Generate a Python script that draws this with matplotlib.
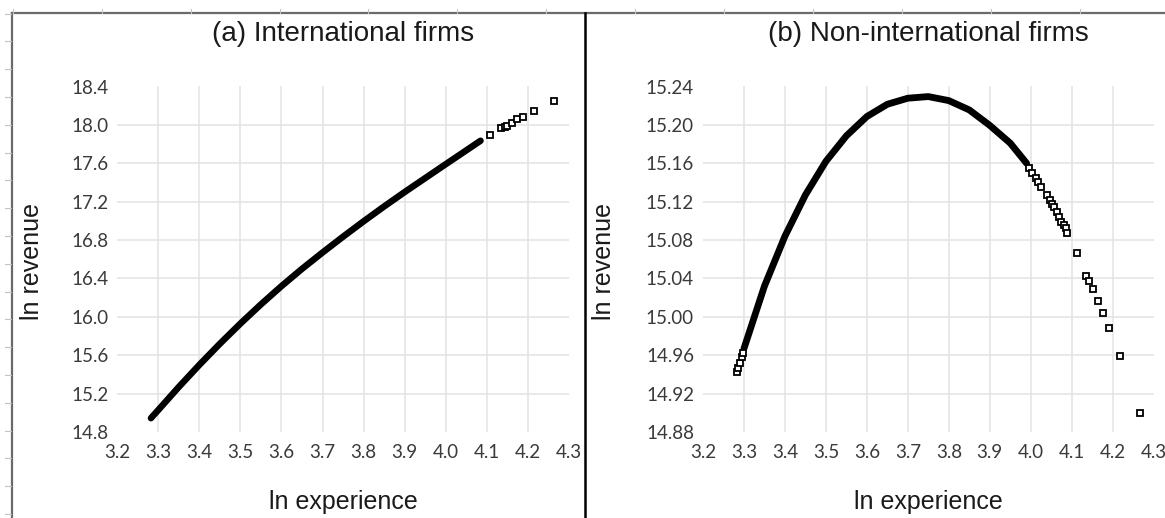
import matplotlib
matplotlib.use("Agg")
import matplotlib.pyplot as plt
from matplotlib.lines import Line2D

# ---------------- data ----------------
x_ticks = [3.2, 3.3, 3.4, 3.5, 3.6, 3.7, 3.8, 3.9, 4.0, 4.1, 4.2, 4.3]
x_tick_labels = ["3.2", "3.3", "3.4", "3.5", "3.6", "3.7", "3.8", "3.9", "4.0", "4.1", "4.2", "4.3"]

a_y_ticks = [14.8, 15.2, 15.6, 16.0, 16.4, 16.8, 17.2, 17.6, 18.0, 18.4]
a_y_tick_labels = ["14.8", "15.2", "15.6", "16.0", "16.4", "16.8", "17.2", "17.6", "18.0", "18.4"]
b_y_ticks = [14.88, 14.92, 14.96, 15.00, 15.04, 15.08, 15.12, 15.16, 15.20, 15.24]
b_y_tick_labels = ["14.88", "14.92", "14.96", "15.00", "15.04", "15.08", "15.12", "15.16", "15.20", "15.24"]

# (a) International firms: dense part of the point cloud
a_dense_x = [3.282, 3.30, 3.35, 3.40, 3.45, 3.50, 3.55, 3.60, 3.65, 3.70, 3.75,
             3.80, 3.85, 3.90, 3.95, 4.00, 4.04, 4.085]
a_dense_y = [14.944, 15.03, 15.27, 15.50, 15.72, 15.93, 16.13, 16.32, 16.50, 16.67, 16.835,
             16.995, 17.15, 17.30, 17.445, 17.59, 17.705, 17.835]
# (a) isolated points at the right end
a_sparse_x = [4.107, 4.136, 4.144, 4.150, 4.162, 4.174, 4.189, 4.214, 4.263]
a_sparse_y = [17.896, 17.966, 17.976, 17.990, 18.024, 18.060, 18.080, 18.146, 18.250]

# (b) Non-international firms: dense part
b_dense_x = [3.300, 3.35, 3.40, 3.45, 3.50, 3.55, 3.60, 3.65, 3.70, 3.75, 3.80,
             3.85, 3.90, 3.95, 3.99]
b_dense_y = [14.967, 15.032, 15.084, 15.127, 15.162, 15.1886, 15.2087, 15.2215, 15.2278,
             15.2295, 15.2253, 15.2156, 15.1995, 15.181, 15.160]
# (b) individual points
b_sparse_x = [3.282, 3.286, 3.290, 3.294, 3.298,
              3.996, 4.004, 4.0125, 4.019, 4.026, 4.039, 4.046, 4.0525, 4.058, 4.064,
              4.069, 4.075, 4.081, 4.086, 4.0875,
              4.112, 4.136, 4.142, 4.152, 4.164, 4.177, 4.192, 4.217, 4.267]
b_sparse_y = [14.942, 14.947, 14.952, 14.958, 14.962,
              15.155, 15.150, 15.1445, 15.141, 15.1357, 15.127, 15.122, 15.1177, 15.114, 15.1097,
              15.104, 15.0993, 15.096, 15.0924, 15.0878,
              15.067, 15.0427, 15.0375, 15.029, 15.016, 15.0045, 14.988, 14.959, 14.900]

# ---------------- figure ----------------
W, H = 1165, 518
fig = plt.figure(figsize=(W / 100, H / 100), dpi=100)


def fx(px):
    return px / W


def fy(py):
    return 1 - py / H


TICK_FONT = ["Lato", "DejaVu Sans"]
TEXT_FONT = ["Liberation Sans", "DejaVu Sans"]
GRID = "#e3e3e3"


def make_panel(left_px, right_px, xlim, ylim, yticks, ylabels):
    top_px, bottom_px = 86.5, 432.0
    ax = fig.add_axes([fx(left_px), fy(bottom_px),
                       (right_px - left_px) / W, (bottom_px - top_px) / H])
    ax.set_xlim(*xlim)
    ax.set_ylim(*ylim)
    for s in ax.spines.values():
        s.set_visible(False)
    for v in x_ticks[1:-1]:
        ax.axvline(v, color=GRID, lw=1.1, zorder=0)
    for v in yticks[1:-1]:
        ax.axhline(v, color=GRID, lw=1.1, zorder=0)
    ax.set_xticks(x_ticks)
    ax.set_xticklabels(x_tick_labels, fontfamily=TICK_FONT, fontsize=13.5, color="#3a3a3a")
    ax.set_yticks(yticks)
    ax.set_yticklabels(ylabels, fontfamily=TICK_FONT, fontsize=13.5, color="#3a3a3a")
    ax.tick_params(axis="both", length=0)
    ax.tick_params(axis="x", pad=9)
    ax.tick_params(axis="y", pad=6.5)
    ax.set_facecolor("none")
    return ax


axa = make_panel(117.3, 568.8, (3.2, 4.3), (14.8, 18.4), a_y_ticks, a_y_tick_labels)
axb = make_panel(703.0, 1153.6, (3.2, 4.3), (14.88, 15.24), b_y_ticks, b_y_tick_labels)

mk = dict(linestyle="none", marker="s", markersize=4.2, markerfacecolor="white",
          markeredgecolor="black", markeredgewidth=1.3, clip_on=False, zorder=3)

axa.plot(a_dense_x, a_dense_y, color="black", lw=4.7, solid_capstyle="round",
         solid_joinstyle="round", zorder=3)
axa.plot(a_sparse_x, a_sparse_y, **mk)

axb.plot(b_dense_x, b_dense_y, color="black", lw=4.9, solid_capstyle="round",
         solid_joinstyle="round", zorder=3)
axb.plot(b_sparse_x, b_sparse_y, **mk)

# titles and axis labels
fig.text(fx(343), fy(34), "(a) International firms", ha="center", va="center",
         fontsize=20, family=TEXT_FONT, color="#1a1a1a")
fig.text(fx(928), fy(34), "(b) Non-international firms", ha="center", va="center",
         fontsize=20, family=TEXT_FONT, color="#1a1a1a")
fig.text(fx(31.7), fy(262), "ln revenue", rotation=90, ha="center", va="center",
         fontsize=18, family=TEXT_FONT, color="#1a1a1a")
fig.text(fx(604), fy(262), "ln revenue", rotation=90, ha="center", va="center",
         fontsize=18, family=TEXT_FONT, color="#1a1a1a")
fig.text(fx(343), fy(502), "ln experience", ha="center", va="center",
         fontsize=18, family=TEXT_FONT, color="#1a1a1a")
fig.text(fx(928), fy(502), "ln experience", ha="center", va="center",
         fontsize=18, family=TEXT_FONT, color="#1a1a1a")

# sheet-like frame: top line, left line, divider
fig.add_artist(Line2D([fx(11.7), 1], [fy(13.3), fy(13.3)], color="#6a6a6a", lw=1.6))
fig.add_artist(Line2D([fx(11.7), fx(11.7)], [fy(13.3), 0], color="#6a6a6a", lw=1.6))
fig.add_artist(Line2D([fx(584.5), fx(584.5)], [fy(13.3), 0], color="black", lw=1.8))
# faint row / column markers outside the frame
for i in range(19):
    yy = 13.5 + 27.8 * i
    fig.add_artist(Line2D([fx(5), fx(10.5)], [fy(yy), fy(yy)], color="#c4c4c4", lw=0.8))
for i in range(13):
    xx = 12.8 + 88.9 * i
    fig.add_artist(Line2D([fx(xx), fx(xx)], [fy(8.5), fy(12.5)], color="#c4c4c4", lw=0.8))

fig.savefig("out.png", dpi=100)
